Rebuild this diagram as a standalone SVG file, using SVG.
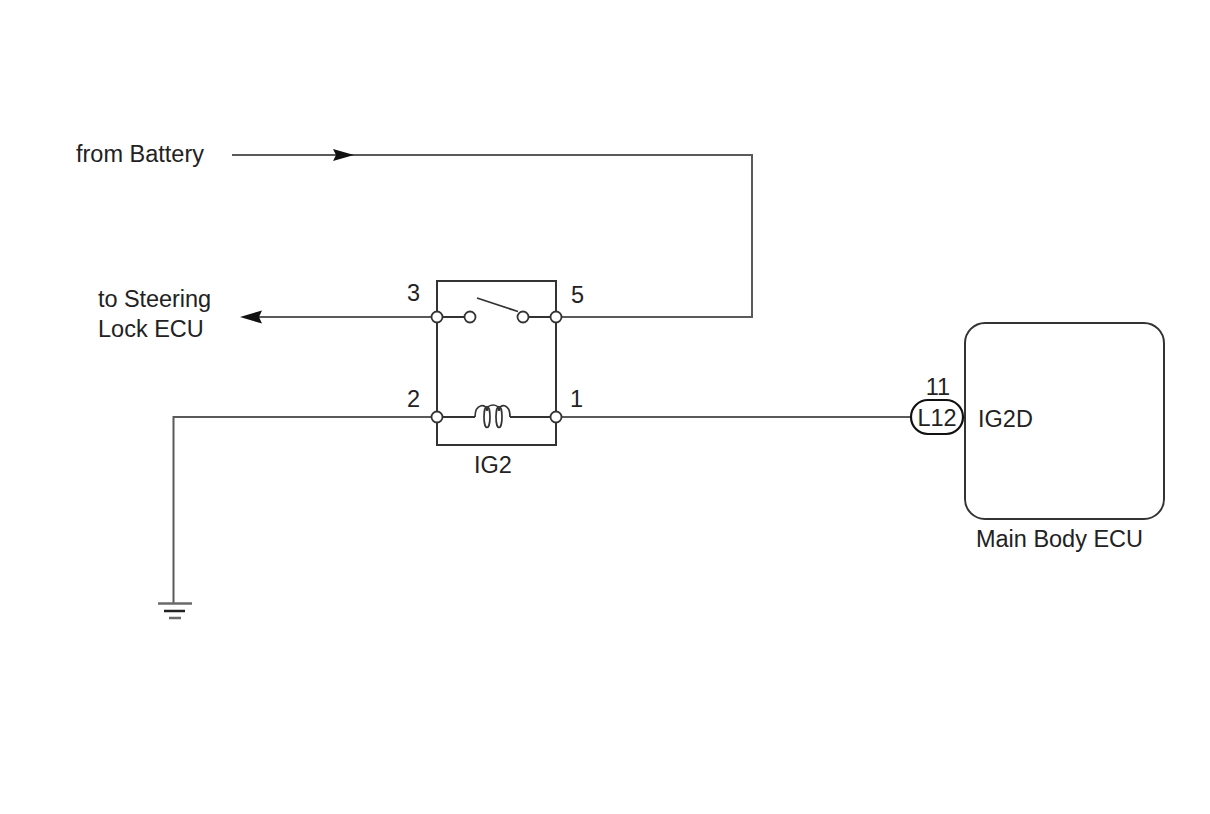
<svg xmlns="http://www.w3.org/2000/svg" width="1210" height="814" viewBox="0 0 1210 814">
<style>
.w{fill:none;stroke:#5a5a5a;stroke-width:2}
.b{fill:none;stroke:#333;stroke-width:2}
.t{font-family:"Liberation Sans",Arial,sans-serif;font-size:23.5px;fill:#222}
.c{fill:#fff;stroke:#333;stroke-width:1.8}
.ah{fill:#111}
</style>
<rect width="1210" height="814" fill="#fff"/>
<g id="connectors">
<polyline class="w" points="232,155 752,155 752,317 561,317"/>
<polygon class="ah" points="354,155 333,149 336,155 333,161"/>
<line class="w" x1="250" y1="317" x2="432" y2="317"/>
<polygon class="ah" points="240,317 262,310.5 259,317 262,323.5"/>
<line class="w" x1="561" y1="417" x2="911" y2="417"/>
<polyline class="w" points="432,417 173.5,417 173.5,603"/>
</g>
<g id="ground">
<line x1="158" y1="603.5" x2="192" y2="603.5" stroke="#6a6a6a" stroke-width="2.5"/>
<line x1="164" y1="611" x2="185" y2="611" stroke="#222" stroke-width="2.5"/>
<line x1="169" y1="618" x2="181" y2="618" stroke="#6a6a6a" stroke-width="2.5"/>
</g>
<g id="relay">
<polyline class="b" points="437,317 437,281 556,281 556,317"/>
<polyline class="b" points="437,417 437,445 556,445 556,417"/>
<line class="b" x1="437" y1="317" x2="437" y2="417"/>
<line class="b" x1="556" y1="317" x2="556" y2="417"/>
<line class="b" x1="437" y1="317" x2="470" y2="317"/>
<line class="b" x1="523" y1="317" x2="556" y2="317"/>
<line x1="477" y1="298" x2="518" y2="311.5" stroke="#333" stroke-width="1.8"/>
<line class="b" x1="437" y1="417" x2="475" y2="417"/>
<line class="b" x1="510" y1="417" x2="556" y2="417"/>
<path d="M475,417 C475,403 487,403 487,411 C487,403 499,403 499,411 C499,403 510,403 510,417" fill="none" stroke="#333" stroke-width="1.7"/>
<ellipse cx="487" cy="417" rx="3" ry="10.5" fill="none" stroke="#333" stroke-width="1.7"/>
<ellipse cx="499" cy="417" rx="3" ry="10.5" fill="none" stroke="#333" stroke-width="1.7"/>
<circle class="c" cx="437" cy="317" r="5.5"/>
<circle class="c" cx="470" cy="317" r="5.5"/>
<circle class="c" cx="523" cy="317" r="5.5"/>
<circle class="c" cx="556" cy="317" r="5.5"/>
<circle class="c" cx="437" cy="417" r="5.5"/>
<circle class="c" cx="556" cy="417" r="5.5"/>
<text class="t" x="407" y="301">3</text>
<text class="t" x="571" y="303">5</text>
<text class="t" x="407" y="407">2</text>
<text class="t" x="570" y="407">1</text>
<text class="t" x="493" y="473" text-anchor="middle">IG2</text>
</g>
<g id="labels">
<text class="t" x="76" y="162" textLength="128">from Battery</text>
<text class="t" x="98" y="307" textLength="113">to Steering</text>
<text class="t" x="98" y="337">Lock ECU</text>
</g>
<g id="ecu">
<rect x="965" y="323" width="199" height="196" rx="20" fill="none" stroke="#333" stroke-width="2"/>
<rect x="911" y="400" width="52" height="34" rx="17" fill="#fff" stroke="#111" stroke-width="2.2"/>
<text class="t" x="937" y="426" text-anchor="middle">L12</text>
<text class="t" x="938" y="395" text-anchor="middle">11</text>
<text class="t" x="978" y="427">IG2D</text>
<text class="t" x="976" y="547" textLength="167">Main Body ECU</text>
</g>
</svg>
